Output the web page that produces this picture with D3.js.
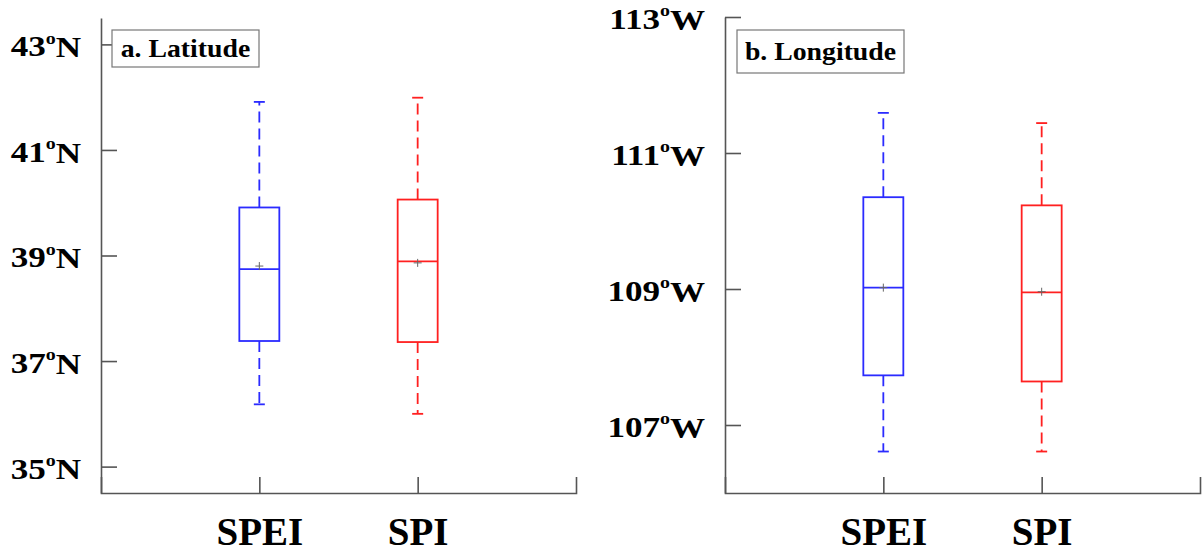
<!DOCTYPE html>
<html><head><meta charset="utf-8">
<script src="https://cdn.jsdelivr.net/npm/d3@7"></script>
<style>body{margin:0;background:#fff}svg{display:block}</style>
</head><body><svg id="c" width="1204" height="554"></svg>
<script>
const categories = ["SPEI", "SPI"];
const colors = ["#2b2bff", "#ff2020"];
// Latitude (°N): [whiskerLow, q1, median, q3, whiskerHigh, mean]
const latStats = [
  [36.18, 37.38, 38.74, 39.91, 41.91, 38.80],
  [36.00, 37.36, 38.89, 40.06, 41.99, 38.86]
];
// Longitude (°W)
const lonStats = [
  [106.61, 107.73, 109.02, 110.35, 111.59, 109.02],
  [106.61, 107.64, 108.95, 110.23, 111.44, 108.96]
];
const latTicks = [35, 37, 39, 41, 43];
const lonTicks = [107, 109, 111, 113];
const panels = [
  {title: "a. Latitude", stats: latStats, ticks: latTicks, suffix: "N", domain: [34.5, 43.5],
   x0: 101, x1: 576, yTop: 18, yBot: 493, box: [112, 30, 147, 37]},
  {title: "b. Longitude", stats: lonStats, ticks: lonTicks, suffix: "W", domain: [106, 113],
   x0: 725, x1: 1200, yTop: 17, yBot: 493, box: [737, 30, 167, 43]}
];
const svg = d3.select("#c");
const axisColor = "#555";
const font = "'Liberation Serif','Times New Roman',serif";
const sx = 1.17;

panels.forEach(p => {
  const g = svg.append("g");
  const x = d3.scalePoint().domain(categories).range([p.x0, p.x1]).padding(1);
  const y = d3.scaleLinear().domain(p.domain).range([p.yBot, p.yTop]);

  // y axis
  const ya = g.append("g").attr("transform", `translate(${p.x0},0)`)
    .call(d3.axisLeft(y).tickValues(p.ticks).tickSizeInner(-16).tickSizeOuter(0).tickPadding(20).tickFormat(""));
  ya.selectAll("path,line").attr("stroke", axisColor).attr("stroke-width", 1.6);
  ya.selectAll(".tick text").each(function(d) {
    const t = d3.select(this).attr("font-family", font).attr("font-weight", "bold")
      .attr("font-size", 30).attr("fill", "#000").attr("dy", "0.38em")
      .attr("x", -20 / sx).attr("transform", `scale(${sx},1)`);
    t.append("tspan").text(d);
    t.append("tspan").text("o").attr("font-size", 17).attr("dy", "-0.75em");
    t.append("tspan").text(p.suffix).attr("dy", "0.45em");
  });

  // x axis
  const xa = g.append("g").attr("transform", `translate(0,${p.yBot})`)
    .call(d3.axisBottom(x).tickSizeInner(-16).tickSizeOuter(-16));
  xa.selectAll("path,line").attr("stroke", axisColor).attr("stroke-width", 1.6);
  xa.selectAll(".tick text").attr("font-family", font).attr("font-weight", "bold")
    .attr("font-size", 39).attr("fill", "#000").attr("y", 52).attr("dy", 0);

  // boxes
  const bw = 40, cap = 11;
  p.stats.forEach((s, i) => {
    const cx = x(categories[i]);
    const c = colors[i];
    const bg = g.append("g").attr("stroke", c).attr("stroke-width", 1.8).attr("fill", "none");
    bg.append("line").attr("x1", cx).attr("x2", cx).attr("y1", y(s[3])).attr("y2", y(s[4]))
      .attr("stroke-dasharray", "11,6");
    bg.append("line").attr("x1", cx).attr("x2", cx).attr("y1", y(s[1])).attr("y2", y(s[0]))
      .attr("stroke-dasharray", "11,6");
    bg.append("line").attr("x1", cx - cap / 2).attr("x2", cx + cap / 2).attr("y1", y(s[4])).attr("y2", y(s[4]));
    bg.append("line").attr("x1", cx - cap / 2).attr("x2", cx + cap / 2).attr("y1", y(s[0])).attr("y2", y(s[0]));
    bg.append("rect").attr("x", cx - bw / 2).attr("width", bw).attr("y", y(s[3])).attr("height", y(s[1]) - y(s[3]));
    bg.append("line").attr("x1", cx - bw / 2).attr("x2", cx + bw / 2).attr("y1", y(s[2])).attr("y2", y(s[2]));
    // mean marker
    const my = y(s[5]);
    g.append("path").attr("d", `M${cx - 4},${my}H${cx + 4}M${cx},${my - 4}V${my + 4}`)
      .attr("stroke", "#666").attr("stroke-width", 1);
  });

  // title box
  const [bx, by, bwid, bh] = p.box;
  const tsx = 1.11;
  g.append("rect").attr("x", bx).attr("y", by).attr("width", bwid).attr("height", bh)
    .attr("fill", "#fff").attr("stroke", "#777").attr("stroke-width", 1.2);
  g.append("text").attr("x", (bx + bwid / 2) / tsx).attr("y", by + bh / 2).attr("dy", "0.35em")
    .attr("transform", `scale(${tsx},1)`)
    .attr("text-anchor", "middle").attr("font-family", font).attr("font-weight", "bold")
    .attr("font-size", 25).attr("fill", "#000").text(p.title);
});
</script></body></html>
